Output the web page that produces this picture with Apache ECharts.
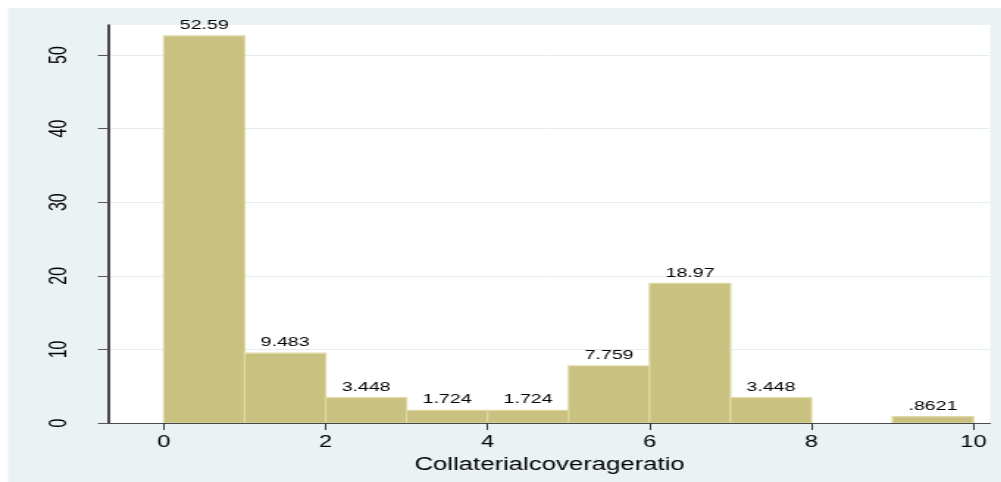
<!DOCTYPE html>
<html>
<head>
<meta charset="utf-8">
<script src="https://cdn.jsdelivr.net/npm/echarts@6/dist/echarts.min.js"></script>
<style>
  html, body { margin: 0; padding: 0; background: #ffffff; }
  #wrap { width: 1001px; height: 482px; overflow: hidden; position: relative; }
  /* the figure is laid out on a narrower canvas and widened horizontally */
  #chart { width: 680.95px; height: 482px; transform: scaleX(1.47); transform-origin: 0 0; }
</style>
</head>
<body>
<div id="wrap"><div id="chart"></div></div>
<script>
// Histogram bins (left edges, width 1) and percent of observations per bin
const binStart = [0, 1, 2, 3, 4, 5, 6, 7, 8, 9];
const binWidth = 1;
const percent = [52.59, 9.483, 3.448, 1.724, 1.724, 7.759, 18.97, 3.448, 0, 0.8621];

// Axis tick values
const xTicks = [0, 2, 4, 6, 8, 10];
const yTicks = [0, 10, 20, 30, 40, 50];
const xTitle = 'Collaterialcoverageratio';

const FONT = '"Liberation Sans", Arial, sans-serif';
const BG = '#eaf2f3';

// Stata-style value label: 4 significant digits, no leading zero
function fmt(v) {
  let s = String(Number(v.toPrecision(4)));
  return s.replace(/^0\./, '.');
}

const barData = binStart.map((x0, i) => [x0, x0 + binWidth, percent[i]]);

const chart = echarts.init(document.getElementById('chart'), null, { renderer: 'canvas' });

chart.setOption({
  animation: false,
  backgroundColor: '#ffffff',
  graphic: [{
    type: 'rect', z: -10, silent: true,
    shape: { x: 5.44, y: 8, width: 700, height: 480 },
    style: { fill: BG }
  }],
  grid: {
    left: 74.15, right: 7.48, top: 25, bottom: 59, z: -1,
    show: true, backgroundColor: '#ffffff', borderWidth: 0
  },
  xAxis: {
    type: 'value', min: -0.676, max: 10.206, z: 5,
    name: xTitle, nameLocation: 'middle', nameGap: 27,
    nameTextStyle: { fontFamily: FONT, fontSize: 17.5, color: '#000' },
    axisLine: { show: true, onZero: false, lineStyle: { color: '#4a4a4a', width: 1.2 } },
    axisTick: { show: true, length: 7, lineStyle: { color: '#333', width: 1 }, customValues: xTicks },
    axisLabel: { fontFamily: FONT, fontSize: 16, color: '#000', margin: 12, customValues: xTicks },
    splitLine: { show: false }
  },
  yAxis: {
    type: 'value', position: 'left', min: 0, max: 54.08, interval: 10, z: 1,
    axisLine: { show: true, onZero: false, lineStyle: { color: '#111', width: 1.5 } },
    axisTick: { show: true, length: 7.5, lineStyle: { color: '#555', width: 1 }, customValues: yTicks },
    axisLabel: { fontFamily: FONT, fontSize: 16, color: '#000', rotate: 90, margin: 26, customValues: yTicks },
    splitLine: { show: true, lineStyle: { color: '#e4eef0', width: 1 } }
  },
  series: [{
    type: 'custom',
    z: 2,
    data: barData,
    encode: { x: [0, 1], y: 2 },
    renderItem: function (params, api) {
      const x0 = api.value(0), x1 = api.value(1), v = api.value(2);
      if (!(v > 0)) return { type: 'group', children: [] };
      const p0 = api.coord([x0, 0]);
      const p1 = api.coord([x1, v]);
      return {
        type: 'group',
        children: [{
          type: 'rect',
          shape: { x: p0[0], y: p1[1], width: p1[0] - p0[0], height: p0[1] - p1[1] },
          style: { fill: '#c9c17f', stroke: '#dfdaa6', lineWidth: 1.2 }
        }, {
          type: 'text',
          style: {
            text: fmt(v),
            x: (p0[0] + p1[0]) / 2,
            y: p1[1] - 4,
            align: 'center',
            verticalAlign: 'bottom',
            fill: '#000',
            font: '13.3px ' + FONT
          }
        }]
      };
    }
  }]
});
</script>
</body>
</html>
